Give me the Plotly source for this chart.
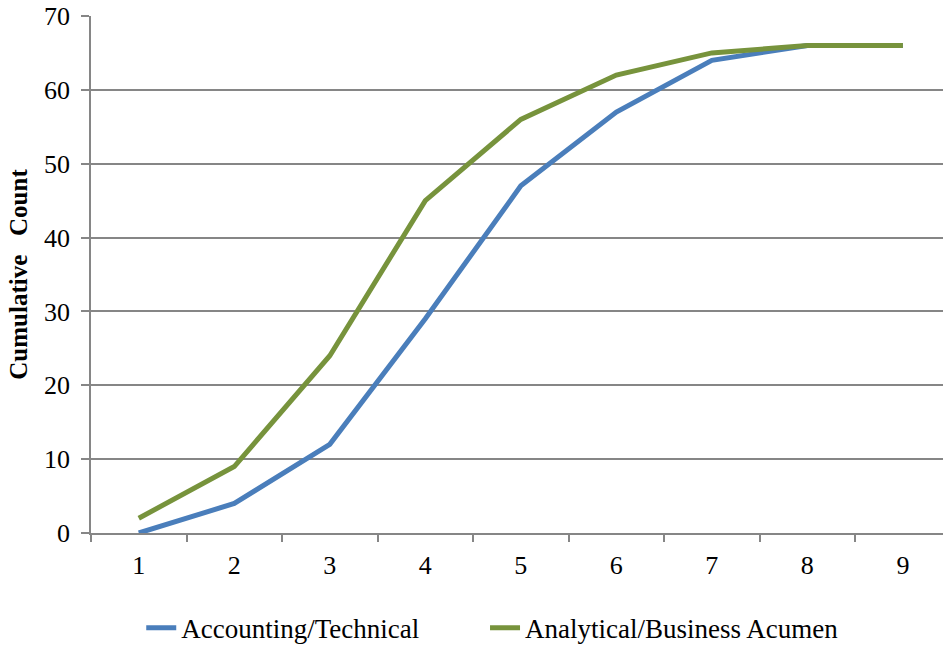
import plotly.graph_objects as go

# Cumulative counts by rank position
positions = ["1", "2", "3", "4", "5", "6", "7", "8", "9"]
accounting_technical = [0, 4, 12, 29, 47, 57, 64, 66, 66]
analytical_business = [2, 9, 24, 45, 56, 62, 65, 66, 66]

series_names = ["Accounting/Technical", "Analytical/Business Acumen"]
series_colors = ["#4a7ebb", "#77933c"]

GRID = "#868686"
FONT = "Liberation Serif, Times New Roman, serif"
PAD = "\u00a0" * 9  # extra spacing between legend entries

fig = go.Figure()
for i, (name, values, color) in enumerate(zip(series_names,
                                              [accounting_technical, analytical_business],
                                              series_colors)):
    label = name + PAD if i < len(series_names) - 1 else name
    fig.add_trace(go.Scatter(
        x=positions, y=values, name=label, mode="lines",
        line=dict(color=color, width=5),
    ))

fig.update_layout(
    width=943, height=645,
    margin=dict(l=91, r=0, t=16, b=112),
    plot_bgcolor="white", paper_bgcolor="white",
    font=dict(family=FONT, size=26, color="black"),
    showlegend=True,
    legend=dict(
        orientation="h", xref="container", yref="container",
        x=0.522, xanchor="center", y=0.026, yanchor="middle",
        font=dict(size=27),
    ),
)

fig.update_xaxes(
    type="category", range=[-0.5, 8.42],
    tickson="boundaries", ticks="outside", ticklen=7, tickwidth=1.5,
    tickcolor=GRID, showline=True, linecolor=GRID, linewidth=1.5,
    showgrid=False, tickfont=dict(size=26), ticklabelstandoff=8,
)
fig.update_yaxes(
    range=[0, 70], dtick=10, ticks="outside", ticklen=8, tickwidth=1.5,
    tickcolor=GRID, showline=True, linecolor=GRID, linewidth=1.5,
    showgrid=True, gridcolor=GRID, gridwidth=1.5, zeroline=False,
    tickfont=dict(size=26), ticklabelstandoff=6,
    title=dict(text="<b>Cumulative\u00a0\u00a0\u00a0Count</b>",
               font=dict(size=25), standoff=9),
)

fig.write_html("out.html")
